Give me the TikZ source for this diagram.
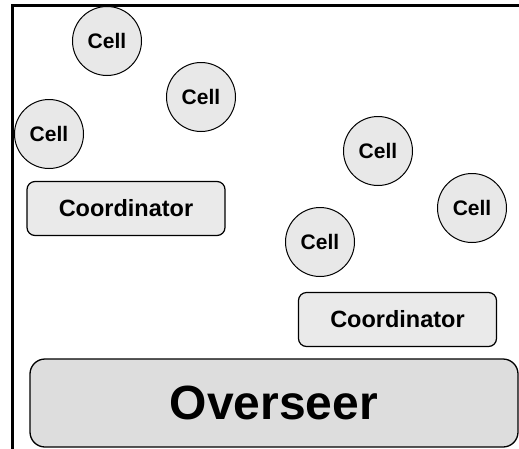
\documentclass[tikz,border=0pt]{standalone}
\usepackage{fontspec}
\setmainfont{Liberation Sans}
\begin{document}
\begin{tikzpicture}[x=1pt,y=-1pt,
  cell/.style={circle,draw=black,line width=1pt,fill=cellgray,minimum size=69pt,inner sep=0pt,
    font=\fontsize{21}{23}\selectfont\bfseries},
  coord/.style={rectangle,rounded corners=8pt,draw=black,line width=1.2pt,fill=coordgray,
    minimum width=198pt,minimum height=54pt,inner sep=0pt,font=\fontsize{23.5}{26}\selectfont\bfseries},
  over/.style={rectangle,rounded corners=15pt,draw=black,line width=1.3pt,fill=overgray,
    minimum width=488pt,minimum height=88pt,inner sep=0pt,font=\fontsize{48}{52}\selectfont\bfseries},
  frame/.style={draw=black,line width=2.2pt}]
\definecolor{cellgray}{HTML}{E8E8E8}
\definecolor{coordgray}{HTML}{EAEAEA}
\definecolor{overgray}{HTML}{DDDDDD}
\useasboundingbox (0,0) rectangle (519,448);
\clip (0,0) rectangle (519,448);
\draw[frame] (12.5,470) -- (12.5,5.5) -- (540,5.5);
\node[cell] (c1) at (107,41) {Cell};
\node[cell] (c2) at (201,97) {Cell};
\node[cell] (c3) at (49,134) {Cell};
\node[cell] (c4) at (378,151) {Cell};
\node[cell] (c5) at (472,208) {Cell};
\node[cell] (c6) at (320,242) {Cell};
\node[coord] (k1) at (126,208.5) {Coordinator};
\node[coord] (k2) at (397.5,319.5) {Coordinator};
\node[over] (o) at (274,403) {Overseer};
\end{tikzpicture}
\end{document}
